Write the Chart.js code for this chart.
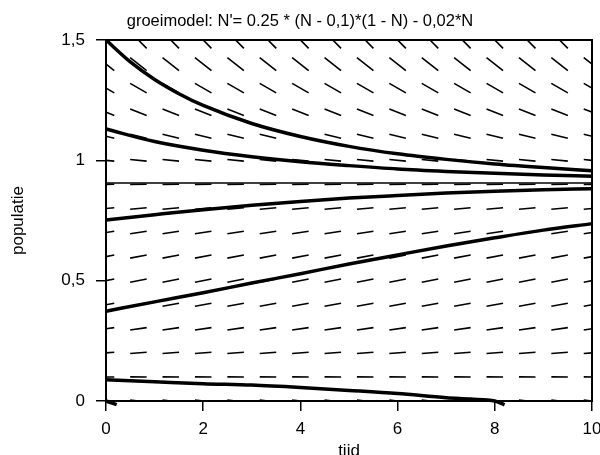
<!DOCTYPE html>
<html><head><meta charset="utf-8">
<script src="https://cdn.jsdelivr.net/npm/chart.js@4.4.1/dist/chart.umd.min.js"></script>
<style>html,body{margin:0;padding:0;background:#fff}</style>
</head><body>
<canvas id="c" width="600" height="455"></canvas>
<script>
// ---- data ----
const titleText = "groeimodel: N'= 0.25 * (N - 0,1)*(1 - N) - 0,02*N";
const xLabel = "tijd";
const yLabel = "populatie";
const xTicks = [0, 2, 4, 6, 8, 10];
const yTicks = [0, 0.5, 1, 1.5];

// slope field: column times, row levels, slope in each row
const fieldT = [0, 0.667, 1.333, 2, 2.667, 3.333, 4, 4.667, 5.333, 6, 6.667, 7.333, 8, 8.667, 9.333, 10];
const fieldN = [0, 0.1, 0.2, 0.3, 0.4, 0.5, 0.6, 0.7, 0.8, 0.9, 1.0, 1.1, 1.2, 1.3, 1.4, 1.5];
const fieldSlope = [-0.025, -0.002, 0.016, 0.029, 0.037, 0.040, 0.038, 0.031, 0.019, 0.002, -0.020, -0.047, -0.079, -0.116, -0.158, -0.205];

// solution curves
const tA = [0, 0.5, 1, 1.5, 2, 3, 4, 5, 6, 7, 8, 9, 10];
const nA = [1.5, 1.409, 1.336, 1.277, 1.228, 1.153, 1.099, 1.058, 1.027, 1.004, 0.985, 0.970, 0.957];
const tB = [0, 1, 2, 3, 4, 5, 6, 7, 8, 9, 10];
const nB = [1.13, 1.078, 1.042, 1.015, 0.994, 0.978, 0.964, 0.954, 0.946, 0.939, 0.934];
const tC = [0, 1, 2, 3, 4, 5, 6, 7, 8, 9, 10];
const nC = [0.752, 0.774, 0.795, 0.813, 0.829, 0.843, 0.854, 0.864, 0.872, 0.878, 0.882];
const tD = [0, 1, 2, 3, 4, 5, 6, 7, 8, 9, 10];
const nD = [0.373, 0.412, 0.450, 0.490, 0.529, 0.569, 0.607, 0.644, 0.678, 0.710, 0.737];
const tE = [0, 1, 2, 3, 4, 5, 6, 7, 7.5, 8, 8.2];
const nE = [0.088, 0.080, 0.072, 0.066, 0.056, 0.044, 0.031, 0.014, 0.008, 0.000, -0.016];
const tF = [0, 0.22];
const nF = [0, -0.015];
const tEq = [0, 10];
const nEq = [0.906, 0.906];

// ---- build ----
const FONT = "'Liberation Sans', Arial, sans-serif";
const halfT = 0.17;
const fieldPts = [];
fieldN.forEach((n, i) => {
  const s = fieldSlope[i];
  fieldT.forEach(t => {
    fieldPts.push({x: t - halfT, y: n - s * halfT});
    fieldPts.push({x: t + halfT, y: n + s * halfT});
    fieldPts.push({x: t + halfT, y: null});
  });
});
const pts = (ts, ns) => ts.map((t, i) => ({x: t, y: ns[i]}));
const curve = (ts, ns, w) => ({
  data: pts(ts, ns), borderColor: '#000', borderWidth: w, pointRadius: 0,
  cubicInterpolationMode: 'monotone', clip: 6, fill: false
});

const datasets = [
  curve(tA, nA, 3.5), curve(tB, nB, 3.5), curve(tC, nC, 3.5), curve(tD, nD, 3.5),
  curve(tE, nE, 3.5), curve(tF, nF, 3.5),
  Object.assign(curve(tEq, nEq, 1.5), {cubicInterpolationMode: 'default'}),
  {data: fieldPts, borderColor: '#000', borderWidth: 1.6, pointRadius: 0, tension: 0, spanGaps: false, fill: false}
];

new Chart(document.getElementById('c'), {
  type: 'line',
  data: {datasets},
  options: {
    responsive: false, animation: false, devicePixelRatio: 1,
    layout: {padding: {left: 0, right: 0, top: 0, bottom: 0}},
    plugins: {
      legend: {display: false}, tooltip: {enabled: false},
      title: {display: true, text: titleText, color: '#000',
        font: {family: FONT, size: 16.5, weight: 'normal'}, padding: {top: 11.8, bottom: 8.4}}
    },
    scales: {
      x: {
        type: 'linear', position: 'bottom', min: 0, max: 10,
        afterBuildTicks: s => { s.ticks = xTicks.map(v => ({value: v})); },
        afterFit: s => { s.height = 54; s.paddingLeft = 0; s.paddingRight = 0; },
        ticks: {color: '#000', font: {family: FONT, size: 17}, padding: 8, maxRotation: 0, autoSkip: false},
        grid: {drawOnChartArea: false, drawTicks: true, tickLength: 10, color: '#000', lineWidth: 1.5},
        border: {display: true, color: '#000', width: 2},
        title: {display: true, text: xLabel, color: '#000', font: {family: FONT, size: 17}, padding: {top: 0, bottom: -7}}
      },
      y: {
        type: 'linear', position: 'left', min: 0, max: 1.5,
        afterBuildTicks: s => { s.ticks = yTicks.map(v => ({value: v})); },
        afterFit: s => { s.width = 106; s.paddingTop = 0; s.paddingBottom = 0; },
        ticks: {color: '#000', font: {family: FONT, size: 17}, padding: 11,
          callback: v => String(v).replace('.', ',')},
        grid: {drawOnChartArea: false, drawTicks: true, tickLength: 10, color: '#000', lineWidth: 1.5},
        border: {display: true, color: '#000', width: 2},
        title: {display: true, text: yLabel, color: '#000', font: {family: FONT, size: 17}, padding: {top: 8, bottom: 0}}
      },
      x2: {
        type: 'linear', position: 'top', min: 0, max: 10,
        afterFit: s => { s.height = 0; },
        ticks: {display: false}, grid: {display: false, drawTicks: false},
        border: {display: true, color: '#000', width: 2}
      },
      y2: {
        type: 'linear', position: 'right', min: 0, max: 1.5,
        afterFit: s => { s.width = 8; },
        ticks: {display: false}, grid: {display: false, drawTicks: false},
        border: {display: true, color: '#000', width: 2}
      }
    }
  }
});
</script>
</body></html>
